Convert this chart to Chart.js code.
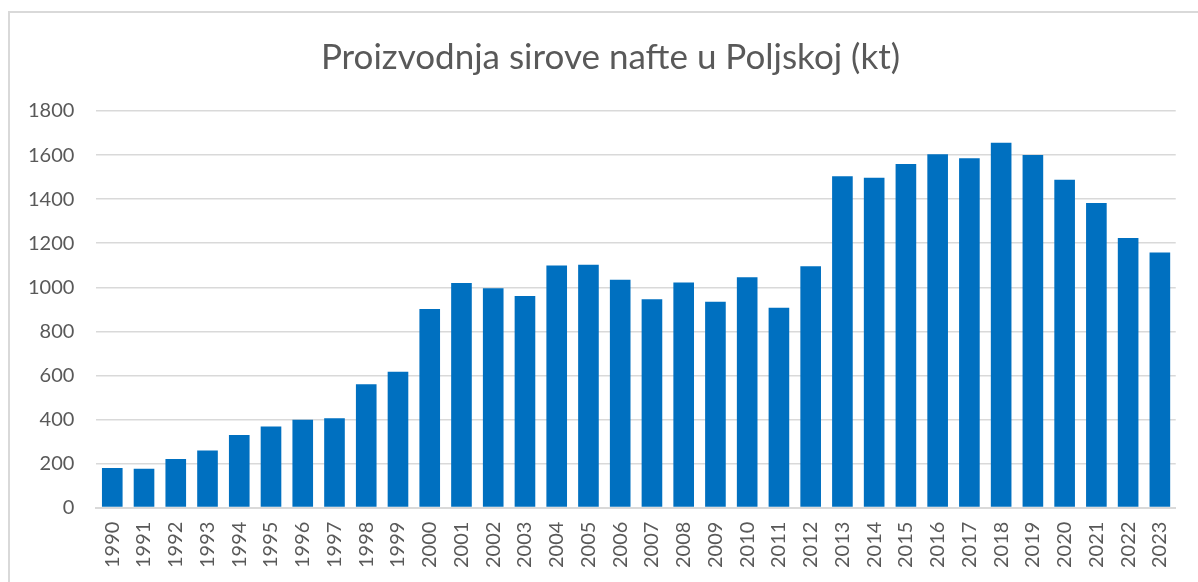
<!DOCTYPE html>
<html>
<head>
<meta charset="utf-8">
<script src="https://cdn.jsdelivr.net/npm/chart.js@4/dist/chart.umd.min.js"></script>
<style>
    html, body { margin: 0; padding: 0; background: #fff; }
    #wrap { position: relative; width: 1198px; height: 582px; overflow: hidden; }
    #frame {
        position: absolute; left: 8px; top: 11px; width: 1300px; height: 700px;
        border-left: 2px solid #d9d9d9; border-top: 2px solid #d9d9d9;
    }
    canvas { position: absolute; left: 0; top: 0; }
</style>
</head>
<body>
<div id="wrap">
    <div id="frame"></div>
    <canvas id="chart" width="1198" height="582"></canvas>
</div>
<script>

const chartTitle = 'Proizvodnja sirove nafte u Poljskoj (kt)';

const years = [
    '1990', '1991', '1992', '1993', '1994', '1995', '1996', '1997', '1998', '1999',
    '2000', '2001', '2002', '2003', '2004', '2005', '2006', '2007', '2008', '2009',
    '2010', '2011', '2012', '2013', '2014', '2015', '2016', '2017', '2018', '2019',
    '2020', '2021', '2022', '2023'
];

const production = [
    180, 176, 221, 259, 329, 368, 399, 406, 560, 617,
    901, 1019, 995, 960, 1099, 1102, 1034, 946, 1022, 934,
    1046, 907, 1095, 1504, 1497, 1560, 1604, 1585, 1656, 1600,
    1488, 1383, 1224, 1158
];

const yTicks = [ 0, 200, 400, 600, 800, 1000, 1200, 1400, 1600, 1800 ];

const barColor = '#0070c0',
      gridColor = '#d9d9d9',
      textColor = '#595959';

Chart.defaults.font.family = 'Lato, "Liberation Sans", sans-serif';
Chart.defaults.color = textColor;

// Title sits a bit right of the canvas centre in the original
const shiftTitle = {
    id: 'shiftTitle',
    afterLayout: chart => {
        if ( chart.titleBlock ) chart.titleBlock.left += 26;
    }
};

new Chart( document.getElementById( 'chart' ).getContext( '2d' ), {
    type: 'bar',
    data: {
        labels: years,
        datasets: [ {
            label: chartTitle,
            data: production,
            backgroundColor: barColor,
            borderWidth: 0,
            categoryPercentage: 1,
            barPercentage: 0.65
        } ]
    },
    options: {
        responsive: false,
        animation: false,
        layout: {
            padding: { left: 6, right: 9, top: 0, bottom: 0 }
        },
        plugins: {
            legend: { display: false },
            tooltip: { enabled: false },
            title: {
                display: true,
                text: chartTitle,
                color: textColor,
                font: { size: 35, weight: 400 },
                padding: { top: 37, bottom: 32 }
            }
        },
        scales: {
            x: {
                grid: { display: false, drawTicks: false },
                border: { color: gridColor, width: 2 },
                ticks: {
                    color: textColor,
                    font: { size: 20 },
                    minRotation: 90,
                    maxRotation: 90,
                    autoSkip: false,
                    padding: 14
                }
            },
            y: {
                min: 0,
                max: 1800,
                afterBuildTicks: axis => {
                    axis.ticks = yTicks.map( v => ( { value: v } ) );
                },
                grid: { color: gridColor, lineWidth: 1.5, drawTicks: false },
                border: { display: false },
                ticks: {
                    color: textColor,
                    font: { size: 20 },
                    padding: 22,
                    callback: v => String( v )
                }
            }
        }
    },
    plugins: [ shiftTitle ]
} );

</script>
</body>
</html>
